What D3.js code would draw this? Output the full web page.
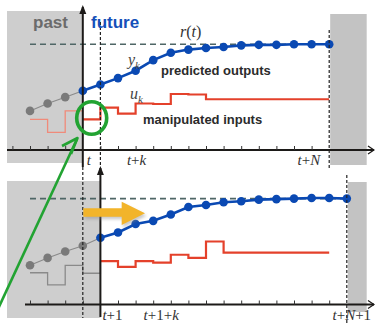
<!DOCTYPE html>
<html>
<head>
<meta charset="utf-8">
<script src="https://cdn.jsdelivr.net/npm/d3@7"></script>
<style>
  html, body { margin: 0; padding: 0; background: #fff; }
  svg { display: block; }
</style>
</head>
<body>
<svg id="chart" width="375" height="324"></svg>
<script>
// ---------------- DATA (normalised: reference r(t) = 1) ----------------
const reference = 1.0;
// top panel (time t)
const topOutPast = [0.37, 0.44, 0.50];                       // k = -3..-1
const topOutPred = [0.56, 0.62, 0.68, 0.75, 0.85, 0.92, 0.95, 0.965, 0.975, 0.99, 0.995, 0.995, 1.0, 1.0, 1.0]; // k = 0..14
const topInPast  = [0.29, 0.167, 0.37];                      // k = -3..-1
const topInPlan  = [0.29, 0.40, 0.345, 0.44, 0.435, 0.53, 0.525, 0.48, 0.48, 0.48, 0.48, 0.48, 0.48, 0.48]; // k = 0..13
// bottom panel (time t+1)
const botOutPast = [0.37, 0.44, 0.50, 0.555];                // k = -3..0
const botOutPred = [0.63, 0.68, 0.76, 0.79, 0.85, 0.92, 0.94, 0.965, 0.975, 0.99, 0.995, 1.0, 1.005, 1.005, 1.0]; // k = 1..15
const botInPast  = [0.30, 0.185, 0.37, 0.295];               // k = -3..0
const botInPlan  = [0.41, 0.355, 0.41, 0.395, 0.47, 0.44, 0.595, 0.49, 0.49, 0.49, 0.49, 0.49, 0.49]; // k = 1..13
// tick labels
const topTickLabels = ["t", "t+k", "t+N"];
const botTickLabels = ["t+1", "t+1+k", "t+N+1"];
const textLabels = ["past", "future", "predicted outputs", "manipulated inputs"];

// ---------------- SCALES ----------------
const svg = d3.select("#chart");
const x = d3.scaleLinear().domain([0, 14]).range([82.8, 329.2]);
const yTop = d3.scaleLinear().domain([0, 1]).range([150, 44.3]);
const yBot = d3.scaleLinear().domain([0, 1]).range([304.5, 198.6]);

const C = {
  blue: "#0a49b3", grayPt: "#7a7a7a", grayLn: "#8a8a8a", red: "#e4412b",
  pink: "#f08a7a", ref: "#4f6666", axis: "#1c1a18", boxL: "#cecece", boxR: "#c3c3c3",
  green: "#22a332", gold: "#f2b42a"
};

const defs = svg.append("defs");
defs.append("filter").attr("id", "blur").append("feGaussianBlur").attr("stdDeviation", 1.5);

function pts(vals, k0) { return vals.map((v, i) => [k0 + i, v]); }

function panel(cfg) {
  const y = cfg.y, g = svg.append("g");
  // gray boxes
  g.append("rect").attr("x", 7).attr("y", cfg.boxTop).attr("width", x(cfg.k0) - 7)
    .attr("height", cfg.boxBot - cfg.boxTop).attr("fill", C.boxL);
  g.append("rect").attr("x", x(cfg.kEnd) + 1).attr("y", cfg.rBoxTop).attr("width", 366.7 - x(cfg.kEnd) - 1)
    .attr("height", cfg.rBoxBot - cfg.rBoxTop).attr("fill", C.boxR);

  // horizontal axis
  g.append("line").attr("x1", cfg.axStart).attr("x2", 374).attr("y1", y(0)).attr("y2", y(0))
    .attr("stroke", C.axis).attr("stroke-width", 2);
  g.append("path").attr("d", `M368,${y(0) - 4} L374,${y(0)} L368,${y(0) + 4}`)
    .attr("fill", "none").attr("stroke", C.axis).attr("stroke-width", 1.3);
  const ax = d3.axisTop(x).tickValues(cfg.ticks).tickSize(4).tickFormat("");
  const ag = g.append("g").attr("transform", `translate(0,${y(0)})`).call(ax);
  ag.select(".domain").remove();
  ag.selectAll(".tick line").attr("stroke", "#333").attr("stroke-width", 1);

  // reference dashed
  g.append("line").attr("x1", x(-3)).attr("x2", x(cfg.kEnd)).attr("y1", y(reference)).attr("y2", y(reference))
    .attr("stroke", C.ref).attr("stroke-width", 1.6).attr("stroke-dasharray", "6,4");

  // inputs
  const step = d3.line().x(d => x(d[0])).y(d => y(d[1])).curve(d3.curveStepAfter);
  const past = pts(cfg.inPast, -3).concat([[cfg.k0, cfg.inPlan[0]]]);
  g.append("path").attr("d", step(past)).attr("fill", "none").attr("stroke", cfg.pastInColor).attr("stroke-width", 1.3);
  const plan = pts(cfg.inPlan, cfg.k0);
  plan.push([cfg.k0 + cfg.inPlan.length, cfg.inPlan[cfg.inPlan.length - 1]]);
  g.append("path").attr("d", step(plan)).attr("fill", "none").attr("stroke", C.red).attr("stroke-width", 2.2);

  // outputs
  const line = d3.line().x(d => x(d[0])).y(d => y(d[1]));
  const op = pts(cfg.outPast, -3);
  g.append("path").attr("d", line(op.concat([[cfg.k0, cfg.outPred[0]]]))).attr("fill", "none")
    .attr("stroke", C.grayLn).attr("stroke-width", 1.1);
  g.selectAll(null).data(op).enter().append("circle").attr("cx", d => x(d[0])).attr("cy", d => y(d[1]))
    .attr("r", 4.3).attr("fill", C.grayPt);
  const pp = pts(cfg.outPred, cfg.k0);
  g.append("path").attr("d", line(pp)).attr("fill", "none").attr("stroke", C.blue).attr("stroke-width", 2.6);
  g.selectAll(null).data(pp).enter().append("circle").attr("cx", d => x(d[0])).attr("cy", d => y(d[1]))
    .attr("r", 4.3).attr("fill", C.blue);

  // vertical axis (now)
  g.append("line").attr("x1", x(cfg.k0)).attr("x2", x(cfg.k0)).attr("y1", cfg.vBot).attr("y2", cfg.vTop + 2)
    .attr("stroke", C.axis).attr("stroke-width", 2);
  g.append("path").attr("d", `M${x(cfg.k0) - 3.5},${cfg.vTop + 9} L${x(cfg.k0)},${cfg.vTop} L${x(cfg.k0) + 3.5},${cfg.vTop + 9} Z`)
    .attr("fill", C.axis);

  // tick labels
  cfg.labels.forEach(l => {
    const t = g.append("text").attr("x", l.x).attr("y", cfg.labY).attr("text-anchor", l.anchor)
      .attr("font-family", "'Liberation Serif', serif").attr("font-size", 15).attr("fill", "#333");
    l.text.split("").forEach(ch => {
      t.append("tspan").attr("font-style", /[a-zA-Z]/.test(ch) ? "italic" : "normal").text(ch);
    });
  });
  return g;
}

// dashed verticals
const dash = (xx, y1, y2) => svg.append("line").attr("x1", xx).attr("x2", xx).attr("y1", y1).attr("y2", y2)
  .attr("stroke", "#222").attr("stroke-width", 1.2).attr("stroke-dasharray", "3,2");

panel({
  y: yTop, k0: 0, kEnd: 14, boxTop: 11, boxBot: 163, rBoxTop: 14, rBoxBot: 165, axStart: 7,
  ticks: d3.range(-4, 14).filter(k => k !== 0),
  outPast: topOutPast, outPred: topOutPred, inPast: topInPast, inPlan: topInPlan, pastInColor: C.pink,
  vTop: 5, vBot: 167, labY: 165,
  labels: [
    { text: topTickLabels[0], x: x(0) + 4, anchor: "start" },
    { text: topTickLabels[1], x: x(3) + 1, anchor: "middle" },
    { text: topTickLabels[2], x: x(14) - 9, anchor: "end" }
  ]
});
dash(x(1), 22, 167);
dash(x(14), 30, 168);

panel({
  y: yBot, k0: 1, kEnd: 15, boxTop: 181, boxBot: 318, rBoxTop: 182, rBoxBot: 312, axStart: 25,
  ticks: d3.range(-3, 15).filter(k => k !== 1),
  outPast: botOutPast, outPred: botOutPred, inPast: botInPast, inPlan: botInPlan, pastInColor: C.grayLn,
  vTop: 166, vBot: 317, labY: 320,
  labels: [
    { text: botTickLabels[0], x: x(1) + 2, anchor: "start" },
    { text: botTickLabels[1], x: x(4) + 8, anchor: "middle" },
    { text: botTickLabels[2], x: x(15) + 5, anchor: "middle" }
  ]
});
dash(x(0), 167, 318);
dash(x(15), 175, 324);

// ---------------- ANNOTATIONS ----------------
const sans = "'Liberation Sans', Arial, sans-serif";
svg.append("text").attr("x", 33).attr("y", 28).attr("font-family", sans).attr("font-weight", "bold")
  .attr("font-size", 17).attr("fill", "#6b6b6b").text(textLabels[0]);
svg.append("text").attr("x", 91).attr("y", 28).attr("font-family", sans).attr("font-weight", "bold")
  .attr("font-size", 17).attr("fill", "#1450b9").text(textLabels[1]);
svg.append("text").attr("x", 161).attr("y", 75).attr("font-family", sans).attr("font-weight", "bold")
  .attr("font-size", 13).attr("fill", "#2b2b2b").text(textLabels[2]);
svg.append("text").attr("x", 143).attr("y", 124).attr("font-family", sans).attr("font-weight", "bold")
  .attr("font-size", 13).attr("fill", "#2b2b2b").text(textLabels[3]);

const serif = "'Liberation Serif', serif";
const rt = svg.append("text").attr("x", 180).attr("y", 37).attr("font-family", serif).attr("font-size", 16).attr("fill", "#333");
rt.append("tspan").attr("font-style", "italic").text("r");
rt.append("tspan").text("(");
rt.append("tspan").attr("font-style", "italic").text("t");
rt.append("tspan").text(")");
const yk = svg.append("text").attr("x", 128).attr("y", 65).attr("font-family", serif).attr("font-style", "italic")
  .attr("font-size", 16).attr("fill", "#444");
yk.append("tspan").text("y");
yk.append("tspan").attr("font-size", 11).attr("dy", 4).text("k");
const uk = svg.append("text").attr("x", 130).attr("y", 99).attr("font-family", serif).attr("font-style", "italic")
  .attr("font-size", 16).attr("fill", "#444");
uk.append("tspan").text("u");
uk.append("tspan").attr("font-size", 11).attr("dy", 4).text("k");

// green circle and arrow
svg.append("ellipse").attr("cx", 91.7).attr("cy", 118).attr("rx", 15).attr("ry", 16.3)
  .attr("fill", "none").attr("stroke", C.green).attr("stroke-width", 3.6);
svg.append("line").attr("x1", -9).attr("y1", 324).attr("x2", 77).attr("y2", 139)
  .attr("stroke", C.green).attr("stroke-width", 2.6);
svg.append("path").attr("d", "M62,146 L77.5,138 L71,154").attr("fill", "none")
  .attr("stroke", C.green).attr("stroke-width", 2.6).attr("stroke-linejoin", "round");

// yellow arrow with soft shadow
const arrowD = "M83.3,208.3 L121.7,208.3 L121.7,201.7 L145,213.3 L121.7,225 L121.7,216.7 L83.3,216.7 Z";
svg.append("path").attr("d", arrowD).attr("transform", "translate(1.5,2.5)").attr("fill", "#888")
  .attr("opacity", 0.45).attr("filter", "url(#blur)");
svg.append("path").attr("d", arrowD).attr("fill", C.gold);
</script>
</body>
</html>
